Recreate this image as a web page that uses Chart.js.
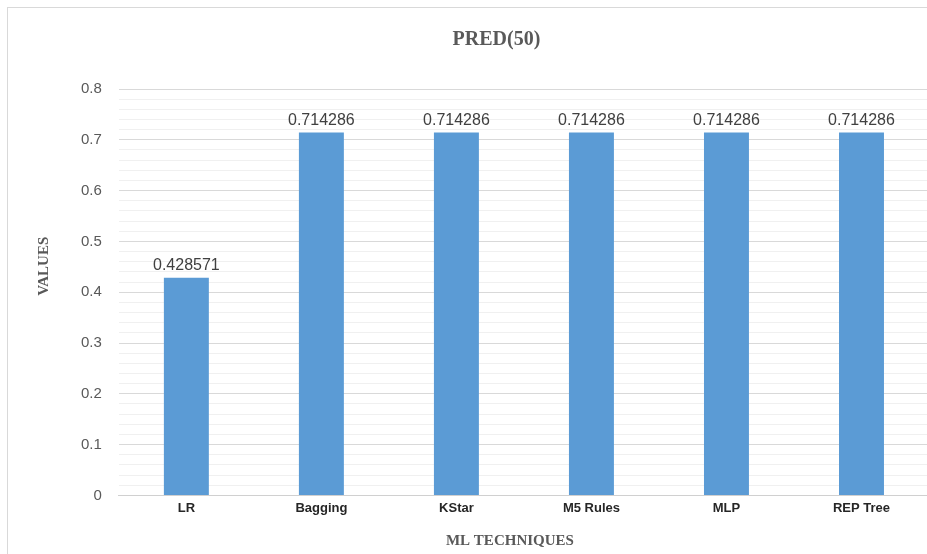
<!DOCTYPE html>
<html>
<head>
<meta charset="utf-8">
<script src="https://cdn.jsdelivr.net/npm/chart.js@4/dist/chart.umd.min.js"></script>
<style>
  html, body { margin: 0; padding: 0; background: #ffffff; overflow: hidden; width: 927px; height: 554px; }
  #frame { position: absolute; left: 7px; top: 7px; width: 1400px; height: 900px; border-left: 1px solid #d9d9d9; border-top: 1px solid #d9d9d9; box-sizing: border-box; }
  #wrap { position: absolute; left: 0; top: 0; width: 945px; height: 554px; }
</style>
</head>
<body>
<div id="frame"></div>
<div id="wrap"><canvas id="chart"></canvas></div>
<script>
// Machine-learning techniques compared on PRED(50)
const techniques = ['LR', 'Bagging', 'KStar', 'M5 Rules', 'MLP', 'REP Tree'];
const predValues = [0.428571, 0.714286, 0.714286, 0.714286, 0.714286, 0.714286];
const yTicksMajor = [0, 0.1, 0.2, 0.3, 0.4, 0.5, 0.6, 0.7, 0.8];

const isMajor = v => yTicksMajor.some(t => Math.abs(t - v) < 1e-6);

// Value labels written above each bar
const barValueLabels = {
  id: 'barValueLabels',
  afterDatasetsDraw(chart) {
    const ctx = chart.ctx;
    const meta = chart.getDatasetMeta(0);
    ctx.save();
    ctx.font = '16px "Liberation Sans", Arial, sans-serif';
    ctx.fillStyle = '#404040';
    ctx.textAlign = 'center';
    ctx.textBaseline = 'bottom';
    meta.data.forEach((bar, i) => {
      ctx.fillText(String(chart.data.datasets[0].data[i]), bar.x, bar.y - 4);
    });
    ctx.restore();
  }
};

// Axis titles placed relative to the plot area
const axisTitles = {
  id: 'axisTitles',
  afterDraw(chart) {
    const ctx = chart.ctx;
    const a = chart.chartArea;
    ctx.save();
    ctx.fillStyle = '#595959';
    ctx.font = 'bold 15px "Liberation Serif", "Times New Roman", serif';
    ctx.textAlign = 'center';
    ctx.textBaseline = 'middle';
    ctx.fillText('ML TECHNIQUES', (a.left + a.right) / 2 - 14, a.bottom + 46);
    ctx.translate(a.left - 75, (a.top + a.bottom) / 2 - 26);
    ctx.rotate(-Math.PI / 2);
    ctx.fillText('VALUES', 0, 0);
    ctx.restore();
  }
};

new Chart(document.getElementById('chart'), {
  type: 'bar',
  data: {
    labels: techniques,
    datasets: [{
      label: 'PRED(50)',
      data: predValues,
      backgroundColor: '#5b9bd5',
      borderWidth: 0,
      categoryPercentage: 1.0,
      barPercentage: 0.333
    }]
  },
  options: {
    responsive: true,
    maintainAspectRatio: false,
    animation: false,
    devicePixelRatio: 1,
    layout: { padding: { left: 64, right: 16, top: 28, bottom: 33 } },
    plugins: {
      legend: { display: false },
      tooltip: { enabled: false },
      title: {
        display: true,
        text: 'PRED(50)',
        color: '#595959',
        font: { family: '"Liberation Serif", "Times New Roman", serif', size: 20, weight: 'bold' },
        padding: { top: 0, bottom: 37 }
      }
    },
    scales: {
      x: {
        offset: true,
        grid: { display: false, drawTicks: false },
        border: { display: true, color: '#d0d0d0', width: 1 },
        ticks: {
          color: '#262626',
          padding: 5,
          font: { family: '"Liberation Sans", Arial, sans-serif', size: 13, weight: 'bold' }
        }
      },
      y: {
        min: 0,
        max: 0.8,
        border: { display: false },
        grid: {
          drawTicks: false,
          color: ctx => isMajor(ctx.tick.value) ? '#d9d9d9' : '#f0f0f0',
          lineWidth: 1
        },
        ticks: {
          stepSize: 0.02,
          autoSkip: false,
          padding: 17,
          color: '#595959',
          font: { family: '"Liberation Sans", Arial, sans-serif', size: 15 },
          callback: v => isMajor(v) ? String(Math.round(v * 10) / 10) : ''
        }
      }
    }
  },
  plugins: [barValueLabels, axisTitles]
});
</script>
</body>
</html>
